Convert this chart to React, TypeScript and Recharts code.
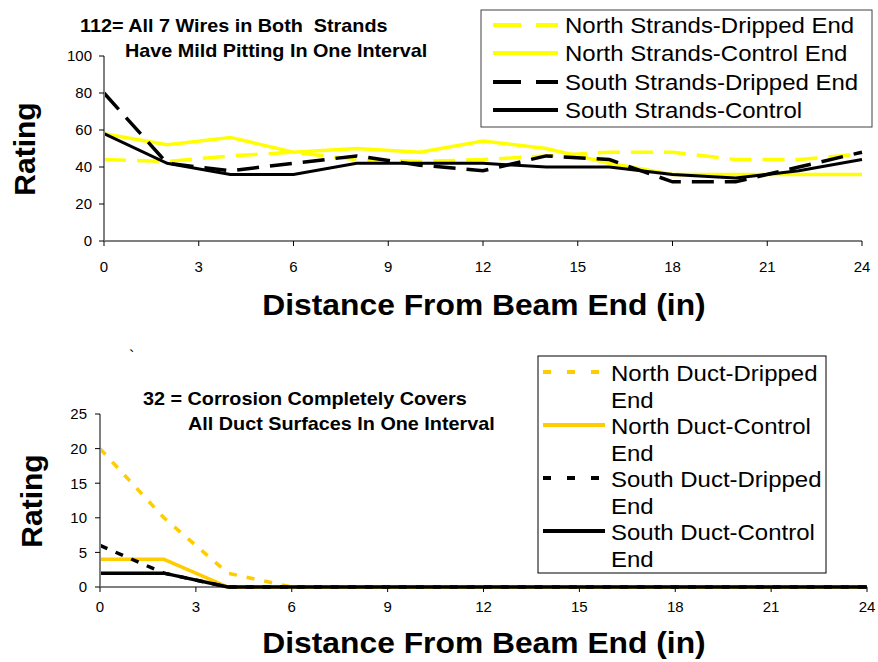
import React from 'react';
import { LineChart, Line, XAxis, YAxis } from 'recharts';

// distance from beam end (in), readings every 2 in
const distance = [0, 2, 4, 6, 8, 10, 12, 14, 16, 18, 20, 22, 24];
const xTicks = [0, 3, 6, 9, 12, 15, 18, 21, 24];

// strands ratings
const northStrandsDripped = [44, 43, 46, 48, 44, 43, 44, 46, 48, 48, 44, 44, 47];
const northStrandsControl = [58, 52, 56, 48, 50, 48, 54, 50, 42, 36, 36, 36, 36];
const southStrandsDripped = [80, 42, 38, 42, 46, 41, 38, 46, 44, 32, 32, 40, 48];
const southStrandsControl = [58, 42, 36, 36, 42, 42, 42, 40, 40, 36, 34, 38, 44];
const strandTicks = [0, 20, 40, 60, 80, 100];

// duct ratings
const northDuctDripped = [20, 10, 2, 0, 0, 0, 0, 0, 0, 0, 0, 0, 0];
const northDuctControl = [4, 4, 0, 0, 0, 0, 0, 0, 0, 0, 0, 0, 0];
const southDuctDripped = [6, 2, 0, 0, 0, 0, 0, 0, 0, 0, 0, 0, 0];
const southDuctControl = [2, 2, 0, 0, 0, 0, 0, 0, 0, 0, 0, 0, 0];
const ductTicks = [0, 5, 10, 15, 20, 25];

const YELLOW = '#FFFF00';
const GOLD = '#FFCC00';
const FONT = '"Liberation Sans", Arial, sans-serif';

const strandRows = distance.map((x, i) => ({
  x,
  nd: northStrandsDripped[i],
  nc: northStrandsControl[i],
  sd: southStrandsDripped[i],
  sc: southStrandsControl[i],
}));

const ductRows = distance.map((x, i) => ({
  x,
  nd: northDuctDripped[i],
  nc: northDuctControl[i],
  sd: southDuctDripped[i],
  sc: southDuctControl[i],
}));

const tickStyle = { fontSize: 15, fill: '#000', fontFamily: FONT };

function Stretch({ x, y, sx, children, bold, size, anchor }: any) {
  return (
    <text
      transform={`translate(${x} ${y}) scale(${sx} 1)`}
      fontSize={size}
      fontWeight={bold ? 'bold' : 'normal'}
      textAnchor={anchor || 'start'}
      fill="#000"
      style={{ whiteSpace: 'pre' }}
    >
      {children}
    </text>
  );
}

const topLegend = [
  { label: 'North Strands-Dripped End', color: YELLOW, dash: '28 15', base: 33 },
  { label: 'North Strands-Control End', color: YELLOW, dash: undefined, base: 61 },
  { label: 'South Strands-Dripped End', color: '#000', dash: '28 15', base: 90 },
  { label: 'South Strands-Control', color: '#000', dash: undefined, base: 118 },
];

const bottomLegend = [
  { label: 'North Duct-Dripped', color: GOLD, dash: '8 16', base: 381 },
  { label: 'North Duct-Control', color: GOLD, dash: undefined, base: 434 },
  { label: 'South Duct-Dripped', color: '#000', dash: '8 16', base: 487 },
  { label: 'South Duct-Control', color: '#000', dash: undefined, base: 540 },
];

export default function App() {
  return (
    <div style={{ position: 'absolute', left: 0, top: 0, width: 878, height: 662, background: '#fff', fontFamily: FONT }}>
      <div style={{ position: 'absolute', left: 0, top: 0 }}>
        <LineChart width={878} height={330} data={strandRows} margin={{ top: 56, right: 16, bottom: 49, left: 44 }}>
          <XAxis
            dataKey="x"
            type="number"
            domain={[0, 24]}
            ticks={xTicks}
            tick={tickStyle}
            tickSize={5}
            tickMargin={15}
            height={40}
            axisLine={{ stroke: '#000', strokeWidth: 1 }}
            tickLine={{ stroke: '#000' }}
          />
          <YAxis
            type="number"
            domain={[0, 100]}
            ticks={strandTicks}
            tick={tickStyle}
            tickSize={5}
            tickMargin={7}
            width={60}
            axisLine={{ stroke: '#808080', strokeWidth: 2 }}
            tickLine={{ stroke: '#000' }}
          />
          <Line dataKey="nd" stroke={YELLOW} strokeWidth={3.5} strokeDasharray="22 11" dot={false} isAnimationActive={false} />
          <Line dataKey="nc" stroke={YELLOW} strokeWidth={3.5} dot={false} isAnimationActive={false} />
          <Line dataKey="sd" stroke="#000" strokeWidth={3.5} strokeDasharray="22 11" dot={false} isAnimationActive={false} />
          <Line dataKey="sc" stroke="#000" strokeWidth={3} dot={false} isAnimationActive={false} />
        </LineChart>
      </div>
      <div style={{ position: 'absolute', left: 0, top: 330 }}>
        <LineChart width={878} height={332} data={ductRows} margin={{ top: 84, right: 11, bottom: 35, left: 40 }}>
          <XAxis
            dataKey="x"
            type="number"
            domain={[0, 24]}
            ticks={xTicks}
            tick={tickStyle}
            tickSize={5}
            tickMargin={9}
            height={40}
            axisLine={{ stroke: '#000', strokeWidth: 1 }}
            tickLine={{ stroke: '#000' }}
          />
          <YAxis
            type="number"
            domain={[0, 25]}
            ticks={ductTicks}
            tick={tickStyle}
            tickSize={5}
            tickMargin={8}
            width={60}
            axisLine={{ stroke: '#808080', strokeWidth: 2 }}
            tickLine={{ stroke: '#000' }}
          />
          <Line dataKey="nd" stroke={GOLD} strokeWidth={3.5} strokeDasharray="8 10" dot={false} isAnimationActive={false} />
          <Line dataKey="nc" stroke={GOLD} strokeWidth={3.5} dot={false} isAnimationActive={false} />
          <Line dataKey="sd" stroke="#000" strokeWidth={3.5} strokeDasharray="8 9" dot={false} isAnimationActive={false} />
          <Line dataKey="sc" stroke="#000" strokeWidth={3.5} dot={false} isAnimationActive={false} />
        </LineChart>
      </div>
      <svg
        width={878}
        height={662}
        style={{ position: 'absolute', left: 0, top: 0, pointerEvents: 'none', fontFamily: FONT }}
      >
        {/* top chart titles */}
        <Stretch x={80} y={32} sx={1.1} size={18} bold>112= All 7 Wires in Both  Strands</Stretch>
        <Stretch x={125} y={57} sx={1.1} size={18} bold>Have Mild Pitting In One Interval</Stretch>
        <text transform="translate(35 149) rotate(-90)" fontSize={30} fontWeight="bold" textAnchor="middle">Rating</text>
        <Stretch x={484} y={315} sx={1.06} size={30} bold anchor="middle">Distance From Beam End (in)</Stretch>

        <rect x={481} y={10} width={391} height={117} fill="#fff" stroke="#404040" strokeWidth={1} />
        {topLegend.map((it) => (
          <g key={it.label}>
            <line x1={493} x2={558} y1={it.base - 8} y2={it.base - 8} stroke={it.color} strokeWidth={4} strokeDasharray={it.dash} />
            <Stretch x={565} y={it.base} sx={1.09} size={22}>{it.label}</Stretch>
          </g>
        ))}

        {/* bottom chart titles */}
        <text x={129} y={362} fontSize={16}>`</text>
        <Stretch x={143} y={405} sx={1.1} size={18} bold>32 = Corrosion Completely Covers</Stretch>
        <Stretch x={188} y={430} sx={1.1} size={18} bold>All Duct Surfaces In One Interval</Stretch>
        <text transform="translate(42 501) rotate(-90)" fontSize={30} fontWeight="bold" textAnchor="middle">Rating</text>
        <Stretch x={484} y={653} sx={1.06} size={30} bold anchor="middle">Distance From Beam End (in)</Stretch>

        <rect x={538} y={356} width={288} height={217} fill="#fff" stroke="#000" strokeWidth={1} />
        {bottomLegend.map((it) => (
          <g key={it.label}>
            <line x1={543} x2={605} y1={it.base - 9} y2={it.base - 9} stroke={it.color} strokeWidth={4} strokeDasharray={it.dash} />
            <Stretch x={611} y={it.base} sx={1.09} size={22}>{it.label}</Stretch>
            <Stretch x={611} y={it.base + 26.5} sx={1.09} size={22}>End</Stretch>
          </g>
        ))}
      </svg>
    </div>
  );
}
